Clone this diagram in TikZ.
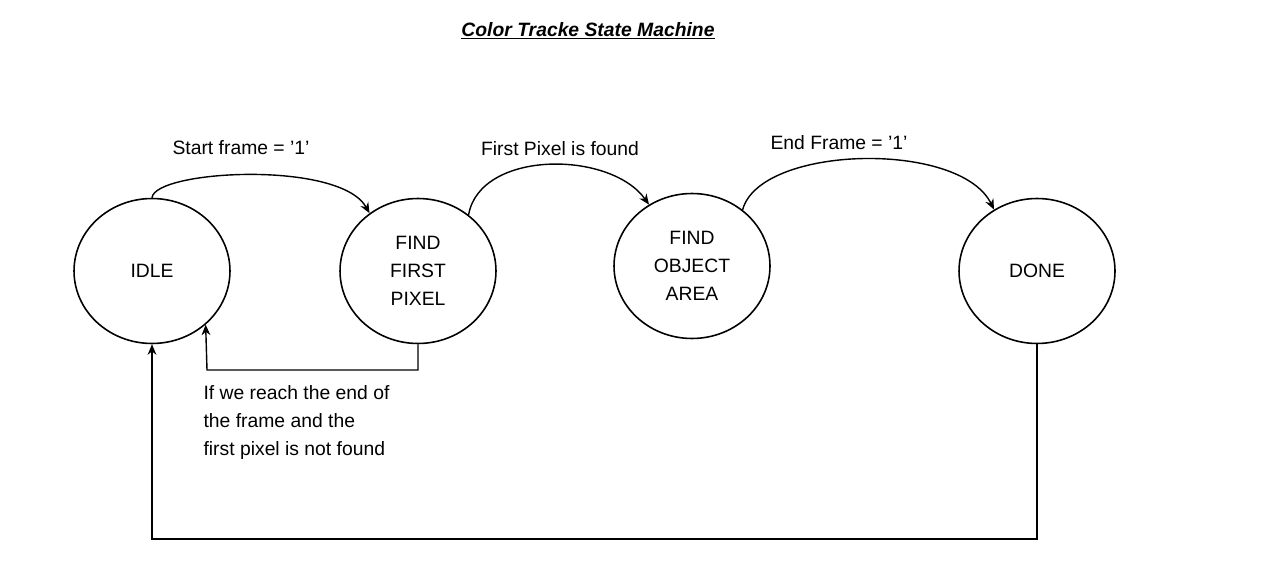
\documentclass[tikz,border=0pt]{standalone}
\usepackage{fontspec}
\setmainfont{Liberation Sans}
\usetikzlibrary{shapes.geometric,arrows.meta}

\begin{document}
\begin{tikzpicture}[x=0.02cm,y=-0.02cm,>={Stealth[length=6pt,width=5pt]},thick,
    state node/.style={ellipse,draw,line width=0.9pt,minimum width=3.12cm,minimum height=2.9cm,align=center,font=\fontsize{11}{16}\selectfont},
    label node/.style={font=\fontsize{11}{16}\selectfont,align=left},
    edge line/.style={->,line width=0.8pt}]

            \useasboundingbox (0,0) rectangle (1280,577);

            \node[font=\fontsize{11}{14}\selectfont\bfseries\itshape] (title) at (588,31) {\underline{Color Tracke State Machine}};

            \node[state node] (idle) at (152,271) {IDLE};
            \node[state node] (ffp) at (418,271) {FIND\\FIRST\\PIXEL};
            \node[state node] (foa) at (692,266) {FIND\\OBJECT\\AREA};
            \node[state node] (done) at (1037,271) {DONE};

            \node[label node] (l1) at (241,148) {Start frame = '1'};
            \node[label node] (l2) at (560,149) {First Pixel is found};
            \node[label node] (l3) at (839,143) {End Frame = '1'};
            \node[label node,anchor=north west] (l4) at (197,379) {If we reach the end of\\the frame and the\\first pixel is not found};

            \coordinate (c1) at (418,370);
            \coordinate (c2) at (207,370);
            \coordinate (c3) at (1037,539);
            \coordinate (c4) at (152,539);

            \draw[edge line] (idle.90) .. controls (155,170) and (340,160) .. (ffp.130);
            \draw[edge line] (ffp.48) .. controls (480,150) and (610,150) .. (foa.125);
            \draw[edge line] (foa.48) .. controls (760,145) and (960,140) .. (done.125);
            \draw[edge line] (ffp.south) |- (c2) -- (idle.-45);
            \draw[edge line] (done.south) |- (c4) -- (idle.south);

            ;
        \end{tikzpicture}
\end{document}
